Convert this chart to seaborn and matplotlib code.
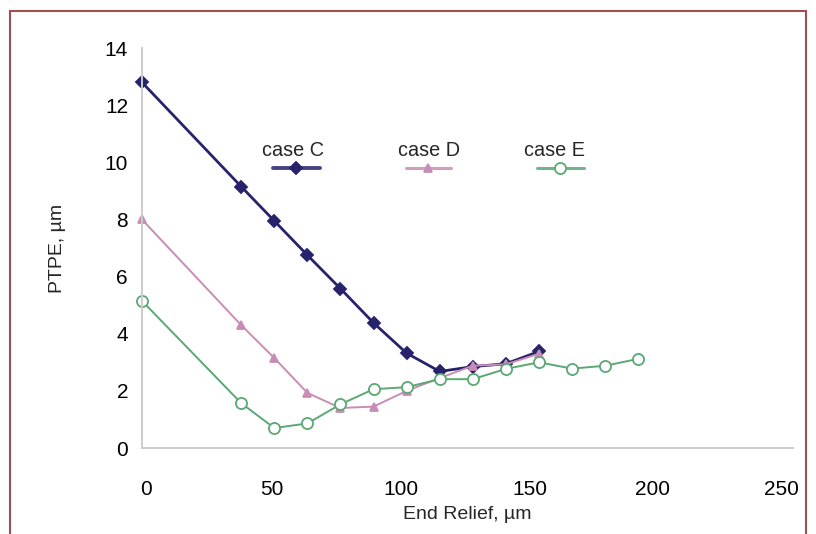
import numpy as np
import pandas as pd
import matplotlib
matplotlib.use("Agg")
import matplotlib.pyplot as plt
import matplotlib.transforms as mtransforms
import seaborn as sns
from matplotlib.lines import Line2D
from matplotlib.patches import Rectangle

# ---- data ----
case_c_x = [0, 38.1, 50.8, 63.5, 76.2, 88.9, 101.6, 114.3, 127.0, 139.7, 152.4]
case_c_y = [12.8, 9.15, 7.95, 6.75, 5.58, 4.38, 3.32, 2.68, 2.85, 2.95, 3.38]

case_d_x = [0, 38.1, 50.8, 63.5, 76.2, 88.9, 101.6, 114.3, 127.0, 139.7, 152.4]
case_d_y = [8.0, 4.3, 3.15, 1.93, 1.4, 1.45, 2.0, 2.45, 2.88, 2.93, 3.3]

case_e_x = [0, 38.1, 50.8, 63.5, 76.2, 88.9, 101.6, 114.3, 127.0, 139.7, 152.4, 165.1, 177.8, 190.5]
case_e_y = [5.15, 1.57, 0.7, 0.86, 1.53, 2.06, 2.13, 2.41, 2.41, 2.77, 3.0, 2.78, 2.88, 3.12]

series_names = ["case C", "case D", "case E"]
x_ticks = [0, 50, 100, 150, 200, 250]
y_ticks = [0, 2, 4, 6, 8, 10, 12, 14]
x_label = "End Relief, \u00b5m"
y_label = "PTPE, \u00b5m"

df = pd.concat([
    pd.DataFrame({"x": case_c_x, "y": case_c_y, "case": series_names[0]}),
    pd.DataFrame({"x": case_d_x, "y": case_d_y, "case": series_names[1]}),
    pd.DataFrame({"x": case_e_x, "y": case_e_y, "case": series_names[2]}),
])

colors = {"case C": "#27226c", "case D": "#c98db5", "case E": "#5aa874"}
markers = {"case C": "D", "case D": "^", "case E": "o"}
msize = {"case C": 6.5, "case D": 5.5, "case E": 8}
lw = {"case C": 2.0, "case D": 1.4, "case E": 1.4}

sns.set_style("white")
plt.rcParams["font.family"] = ["Liberation Sans", "DejaVu Sans"]

fig = plt.figure(figsize=(8.16, 5.34), dpi=100)
ax = fig.add_axes([0.174, 0.161, 0.798, 0.749])

for name in series_names:
    sub = df[df["case"] == name]
    face = "white" if name == "case E" else colors[name]
    sns.lineplot(data=sub, x="x", y="y", ax=ax, color=colors[name],
                 marker=markers[name], markersize=msize[name],
                 markerfacecolor=face, markeredgecolor=colors[name],
                 markeredgewidth=1.3, linewidth=lw[name],
                 legend=False, sort=False, estimator=None)
for ln in ax.get_lines():
    ln.set_clip_on(False)

ax.set_xlim(0, 250)
ax.set_ylim(0, 14)
ax.set_xticks(x_ticks)
ax.set_yticks(y_ticks)
ax.set_xlabel(x_label, fontsize=14, labelpad=5)
ax.set_ylabel(y_label, fontsize=14, labelpad=28)
ax.tick_params(axis="both", labelsize=15, colors="#cccccc", labelcolor="black",
               length=6, width=1.2, direction="out")
ax.tick_params(axis="y", pad=4)
ax.tick_params(axis="x", pad=17)
for s in ["top", "right"]:
    ax.spines[s].set_visible(False)
for s in ["left", "bottom"]:
    ax.spines[s].set_color("#cccccc")
    ax.spines[s].set_linewidth(1.4)

# slight horizontal shifts of x tick labels as in the reference
label_shift_px = [4, 0, -1.5, -3, -10, -12]
for lab, dx in zip(ax.get_xticklabels(), label_shift_px):
    lab.set_transform(lab.get_transform() +
                      mtransforms.ScaledTranslation(dx / 100, 0, fig.dpi_scale_trans))

# manual legend: text above line samples
leg = [("case C", 0.232, 0.201, 0.273, 0.237),
       ("case D", 0.441, 0.405, 0.475, 0.439),
       ("case E", 0.634, 0.607, 0.679, 0.642)]
for name, tx, x0, x1, mx in leg:
    ax.text(tx, 0.745, name, transform=ax.transAxes, ha="center", va="center",
            fontsize=14.3)
    ax.add_line(Line2D([x0, x1], [0.70, 0.70], transform=ax.transAxes,
                       color=colors[name], linewidth=lw[name] + 0.8, alpha=0.85))
    face = "white" if name == "case E" else colors[name]
    ax.add_line(Line2D([mx], [0.70], transform=ax.transAxes, marker=markers[name],
                       markersize=msize[name], markerfacecolor=face,
                       markeredgecolor=colors[name], markeredgewidth=1.3,
                       linestyle="none"))

# outer border (open at the bottom)
fig.add_artist(Rectangle((10 / 816, -0.05), 796 / 816, 1.05 - 11 / 534,
                         transform=fig.transFigure, fill=False,
                         edgecolor="#a0504f", linewidth=1.5, clip_on=False))

fig.savefig("out.png", dpi=100, facecolor="white")
